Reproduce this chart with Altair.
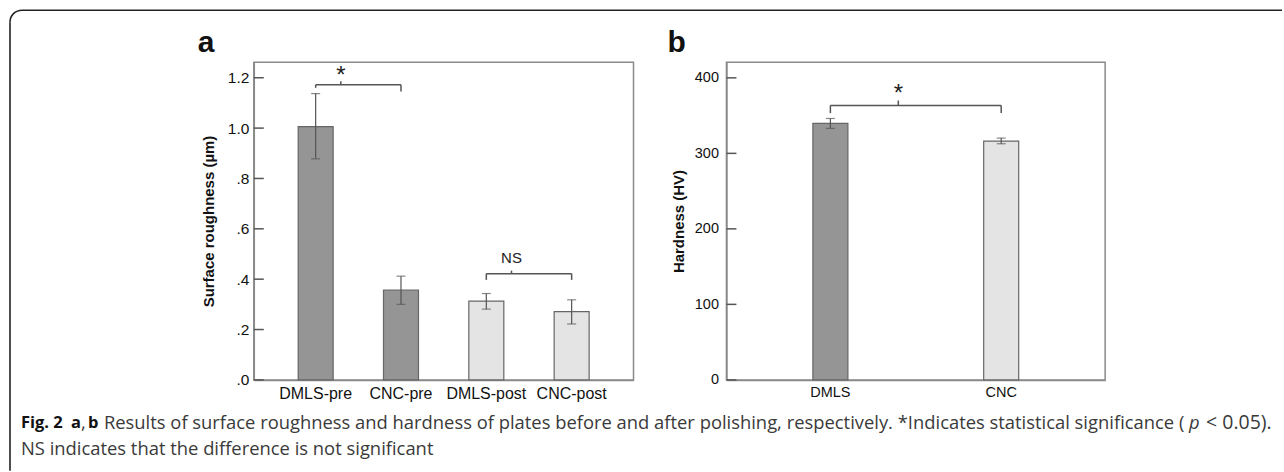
import altair as alt
import pandas as pd

# ---- data ----
cats_a = ["DMLS-pre", "CNC-pre", "DMLS-post", "CNC-post"]
vals_a = [1.006, 0.357, 0.313, 0.271]
lo_a = [0.878, 0.300, 0.281, 0.222]
hi_a = [1.137, 0.412, 0.343, 0.318]
tex_a = ["cross", "cross", "dot", "dot"]

cats_b = ["DMLS", "CNC"]
vals_b = [339.6, 316.2]
lo_b = [333.0, 312.7]
hi_b = [346.2, 320.2]
tex_b = ["cross", "dot"]

ticks_a = [0, 0.2, 0.4, 0.6, 0.8, 1.0, 1.2]
ticks_b = [0, 100, 200, 300, 400]

# significance brackets: (from, to, bar y, left leg end, right leg end, mid tick top, label, label y)
sig_a = [
    ("DMLS-pre", "CNC-pre", 1.172, 1.160, 1.145, 1.186, "*", 1.180),
    ("DMLS-post", "CNC-post", 0.422, 0.397, 0.397, 0.434, "NS", 0.485),
]
sig_b = [("DMLS", "CNC", 363.5, 353.3, 353.3, 370.0, "*", 369.5)]

caption1_bold = ["Fig. 2", "a", "b"]
caption1_text = "Results of surface roughness and hardness of plates before and after polishing, respectively. *Indicates statistical significance ("
caption1_end = "< 0.05)."
caption2 = "NS indicates that the difference is not significant"

W_A, W_B, H = 380, 379, 318
FONT = "Liberation Sans"
AX = "#555555"
fill_scale = alt.Scale(domain=["cross", "dot"], range=["#959595", "#e4e4e4"])

one = pd.DataFrame({"k": [0]})


def panel(cats, vals, lo, hi, tex, ticks, ymax, ytitle, pin, pout, xlab_size, ylab_size,
          lab_pad, title_pad, sig, mid_off, letter, letter_x, decimal):
    df = pd.DataFrame({"cat": cats, "val": vals, "lo": lo, "hi": hi, "tex": tex})
    if decimal:
        lexpr = "datum.value < 1 ? replace(format(datum.value, '.1f'), '0.', '.') : format(datum.value, '.1f')"
    else:
        lexpr = "format(datum.value, 'd')"
    yaxis = alt.Axis(values=ticks, ticks=False, grid=False, title=ytitle,
                     labelFontSize=ylab_size, labelPadding=lab_pad, titleFontSize=15,
                     titleFontWeight="bold", titlePadding=title_pad, labelExpr=lexpr)
    yscale = alt.Scale(domain=[0, ymax], nice=False, zero=True)
    xaxis = alt.Axis(labelAngle=0, labelFontSize=xlab_size, labelPadding=6, ticks=False,
                     title=None, labelColor="#111")
    xscale = alt.Scale(domain=cats, paddingInner=pin, paddingOuter=pout)

    def X(f="cat"):
        return alt.X(f + ":N", scale=xscale, axis=xaxis, title=None)

    def Y(f):
        return alt.Y(f + ":Q", scale=yscale, axis=yaxis, title=ytitle)

    bars = alt.Chart(df).mark_bar(stroke="#666666", strokeWidth=1.2).encode(
        x=X(), y=Y("val"), fill=alt.Fill("tex:N", scale=fill_scale, legend=None))
    err = alt.Chart(df).mark_rule(color=AX, strokeWidth=1.2).encode(x=X(), y=Y("lo"), y2="hi:Q")
    cap_lo = alt.Chart(df).mark_tick(orient="horizontal", size=9, thickness=1.2, color=AX).encode(x=X(), y=Y("lo"))
    cap_hi = alt.Chart(df).mark_tick(orient="horizontal", size=9, thickness=1.2, color=AX).encode(x=X(), y=Y("hi"))

    tdf = pd.DataFrame({"t": ticks})
    inticks = alt.Chart(tdf).mark_rule(color=AX, strokeWidth=1.5).encode(
        y=Y("t"), x=alt.value(0), x2=alt.value(10))

    sdf = pd.DataFrame(sig, columns=["c1", "c2", "yb", "yl", "yr", "ym", "lab", "ly"])
    hbar = alt.Chart(sdf).mark_rule(color=AX, strokeWidth=1.5).encode(
        x=X("c1"), x2="c2:N", y=Y("yb"))
    lleg = alt.Chart(sdf).mark_rule(color=AX, strokeWidth=1.5).encode(x=X("c1"), y=Y("yl"), y2="yb:Q")
    rleg = alt.Chart(sdf).mark_rule(color=AX, strokeWidth=1.5).encode(x=X("c2"), y=Y("yr"), y2="yb:Q")
    mtick = alt.Chart(sdf).mark_rule(color=AX, strokeWidth=1.5).encode(
        x=X("c1"), xOffset=alt.value(mid_off), y=Y("yb"), y2="ym:Q")
    star = alt.Chart(sdf[sdf.lab == "*"]).mark_text(fontSize=24, font=FONT, color="#222",
                                                    baseline="alphabetic").encode(
        x=X("c1"), xOffset=alt.value(mid_off), y=Y("ly"), text="lab:N")
    layers = [bars, err, cap_lo, cap_hi, inticks, hbar, lleg, rleg, mtick, star]
    if (sdf.lab == "NS").any():
        ns = alt.Chart(sdf[sdf.lab == "NS"]).mark_text(fontSize=15, font="Liberation Sans Narrow, " + FONT,
                                                       color="#222", baseline="middle").encode(
            x=X("c1"), xOffset=alt.value(mid_off), y=Y("ly"), text="lab:N")
        layers.append(ns)
    lt = alt.Chart(one).mark_text(fontSize=30, fontWeight="bold", font=FONT, color="#111",
                                  align="left", baseline="alphabetic").encode(
        x=alt.value(letter_x), y=alt.value(-10), text=alt.value(letter))
    layers.append(lt)
    return layers


layers_a = panel(cats_a, vals_a, lo_a, hi_a, tex_a, ticks_a, 1.262, "Surface roughness (µm)",
                 0.59, 0.52, 16, 15.5, 5, 11, sig_a, 42.7, "a", -56, True)
layers_b = panel(cats_b, vals_b, lo_b, hi_b, tex_b, ticks_b, 420.8, "Hardness (HV)",
                 0.795, 0.506, 14.5, 14.5, 8, 8, sig_b, 85.5, "b", -59, False)

# ---- frame and caption (decorations placed relative to panel a) ----
OX, OY = 253, 61  # panel a plot origin on the page
anchor = alt.Chart(one).mark_rule(stroke="white", strokeOpacity=0).encode(
    x=alt.value(-OX), x2=alt.value(-OX + 1), y=alt.value(-OY), y2=alt.value(-OY + 1))
fr_top = alt.Chart(one).mark_rule(color="#222", strokeWidth=1.6).encode(
    x=alt.value(21 - OX), x2=alt.value(1282 - OX), y=alt.value(9 - OY))
fr_left = alt.Chart(one).mark_rule(color="#222", strokeWidth=1.6).encode(
    x=alt.value(9 - OX), y=alt.value(21 - OY), y2=alt.value(470 - OY))
fr_arc = alt.Chart(one).mark_arc(radius=12, radius2=12, theta=4.7124, theta2=6.2832,
                                 fill="transparent", stroke="#222", strokeWidth=1.6).encode(
    x=alt.value(21 - OX), y=alt.value(21 - OY))

CAP_FONT = "Open Sans"
CY1, CY2 = 422 - OY, 448 - OY


def ctext(txt, x, y, weight="normal", style="normal", align="left", color="#3a3a3a", size=18.4):
    return alt.Chart(one).mark_text(fontSize=size, font=CAP_FONT, fontWeight=weight, fontStyle=style,
                                    align=align, baseline="middle", color=color).encode(
        x=alt.value(x - OX), y=alt.value(y), text=alt.value(txt))


caption = [
    ctext(caption1_bold[0], 20, CY1, weight="bold", color="#111", size=16.5),
    ctext(caption1_bold[1], 70, CY1, weight="bold", color="#111", size=16.5),
    ctext(",", 80, CY1),
    ctext(caption1_bold[2], 87, CY1, weight="bold", color="#111", size=16.5),
    ctext(caption1_text, 103, CY1),
    ctext("p", 1189, CY1, style="italic"),
    ctext(caption1_end, 1206, CY1, size=19.5),
    ctext(caption2, 20, CY2),
]

pa = alt.layer(*layers_a, anchor, fr_top, fr_left, fr_arc, *caption).properties(width=W_A, height=H)
pb = alt.layer(*layers_b).properties(width=W_B, height=H)

chart = alt.hconcat(pa, pb, spacing=93, bounds="flush").properties(
    padding=0, background="white"
).configure_view(
    stroke="#8a8a8a", strokeWidth=1.5
).configure_axis(
    domainColor="#8a8a8a", domainWidth=1.5, labelFont=FONT, titleFont=FONT,
    labelColor="#111", titleColor="#111"
)

chart.save("out.html", embed_options={"renderer": "svg", "actions": False})
